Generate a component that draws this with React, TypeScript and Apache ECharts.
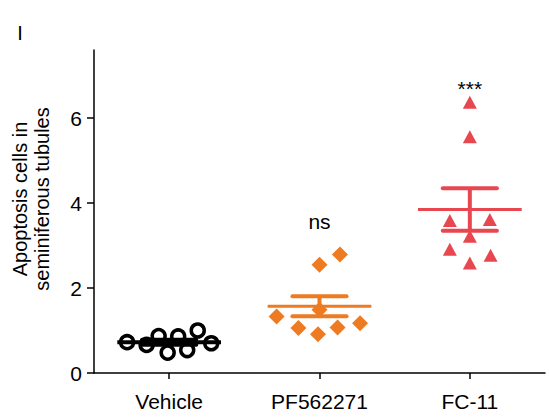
import React, { useEffect, useRef } from "react";
import * as echarts from "echarts";

const categories = ["Vehicle", "PF562271", "FC-11"];

// individual values per group
const vehicleValues = [0.725, 0.66, 0.87, 0.48, 0.86, 0.54, 1.0, 0.7];
const vehicleJitter = [-0.28, -0.15, -0.07, -0.01, 0.06, 0.12, 0.19, 0.28];
const pfValues = [1.33, 1.06, 0.91, 1.07, 1.17, 1.49, 2.55, 2.79];
const pfJitter = [-0.285, -0.14, -0.01, 0.12, 0.27, 0.0, 0.0, 0.136];
const fcValues = [6.37, 5.56, 3.59, 3.61, 3.22, 2.91, 2.77, 2.59];
const fcJitter = [0.0, 0.0, -0.133, 0.133, 0.0, -0.133, 0.138, 0.0];

// mean and SEM per group
const means = [0.725, 1.57, 3.85];
const sems = [0.06, 0.235, 0.5];

const annotations = ["", "ns", "***"];
const annotationY = [0, 3.57, 6.7];

const yTicks = [0, 2, 4, 6];

const FONT = "Liberation Sans, Arial, Helvetica, sans-serif";
const BLACK = "#000000";
const ORANGE = "#EE7B22";
const RED = "#E8474F";
const groupColors = [BLACK, ORANGE, RED];

function pts(values: number[], jitter: number[], idx: number) {
  return values.map((v, i) => [idx + 0.5 + jitter[i], v]);
}

export default function App() {
  const ref = useRef<HTMLDivElement>(null);
  useEffect(() => {
    if (!ref.current) return;
    const chart = echarts.init(ref.current, undefined, { renderer: "svg" });
    const option: any = {
      animation: false,
      backgroundColor: "#ffffff",
      textStyle: { fontFamily: FONT },
      grid: { left: 94, right: 4, top: 50, bottom: 47 },
      xAxis: [
        {
          type: "category",
          data: categories,
          boundaryGap: true,
          axisLine: { show: true, lineStyle: { color: BLACK, width: 1.5 } },
          axisTick: { show: true, alignWithLabel: true, length: 6, lineStyle: { color: BLACK, width: 1.5 } },
          axisLabel: { color: BLACK, fontSize: 21, fontFamily: FONT, margin: 18 },
          splitLine: { show: false },
        },
        {
          type: "value",
          min: 0,
          max: 3,
          show: false,
          splitLine: { show: false },
        },
      ],
      yAxis: {
        type: "value",
        min: 0,
        max: 7.6,
        interval: 2,
        axisLine: { show: true, lineStyle: { color: BLACK, width: 1.5 } },
        axisTick: { show: true, length: 7, lineStyle: { color: BLACK, width: 1.5 } },
        axisLabel: {
          color: BLACK,
          fontSize: 21,
          fontFamily: FONT,
          margin: 12,
          showMaxLabel: false,
          formatter: (v: number) => (yTicks.includes(v) ? String(v) : ""),
        },
        splitLine: { show: false },
      },
      series: [
        {
          type: "scatter",
          xAxisIndex: 1,
          symbol: "circle",
          symbolSize: 13,
          itemStyle: { color: "rgba(255,255,255,0)", borderColor: BLACK, borderWidth: 3.5, opacity: 1 },
          data: pts(vehicleValues, vehicleJitter, 0),
          z: 2,
        },
        {
          type: "scatter",
          xAxisIndex: 1,
          symbol: "diamond",
          symbolSize: 16,
          itemStyle: { color: ORANGE, opacity: 1 },
          data: pts(pfValues, pfJitter, 1),
          z: 2,
        },
        {
          type: "scatter",
          xAxisIndex: 1,
          symbol: "triangle",
          symbolSize: [14, 13],
          itemStyle: { color: RED, opacity: 1 },
          data: pts(fcValues, fcJitter, 2),
          z: 2,
        },
        {
          type: "custom",
          xAxisIndex: 1,
          z: 3,
          data: means.map((m, i) => [i + 0.5, m, sems[i], i]),
          encode: { x: 0, y: 1 },
          renderItem: (params: any, api: any) => {
            const cx = api.value(0);
            const m = api.value(1);
            const s = api.value(2);
            const gi = api.value(3);
            const color = groupColors[gi];
            const halfMean = 0.345;
            const halfCap = 0.18;
            const a = api.coord([cx - halfMean, m]);
            const b = api.coord([cx + halfMean, m]);
            const top = api.coord([cx, m + s]);
            const bot = api.coord([cx, m - s]);
            const capL = api.coord([cx - halfCap, m]);
            const capR = api.coord([cx + halfCap, m]);
            const children: any[] = [
              {
                type: "line",
                shape: { x1: a[0], y1: a[1], x2: b[0], y2: b[1] },
                style: { stroke: color, lineWidth: gi === 0 ? 4 : 3 },
              },
              {
                type: "line",
                shape: { x1: top[0], y1: top[1], x2: bot[0], y2: bot[1] },
                style: { stroke: color, lineWidth: 4 },
              },
              {
                type: "line",
                shape: { x1: capL[0], y1: top[1], x2: capR[0], y2: top[1] },
                style: { stroke: color, lineWidth: 4, lineCap: "round" },
              },
              {
                type: "line",
                shape: { x1: capL[0], y1: bot[1], x2: capR[0], y2: bot[1] },
                style: { stroke: color, lineWidth: 4, lineCap: "round" },
              },
            ];
            return { type: "group", children };
          },
        },
        {
          type: "scatter",
          xAxisIndex: 1,
          symbolSize: 1,
          itemStyle: { color: "rgba(0,0,0,0)", opacity: 1 },
          silent: true,
          data: annotations
            .map((t, i) => ({ value: [i + 0.5, annotationY[i]], name: t }))
            .filter((d) => d.name !== ""),
          label: {
            show: true,
            position: "inside",
            formatter: (p: any) => p.name,
            color: BLACK,
            opacity: 1,
            fontSize: 21,
            fontFamily: FONT,
          },
          z: 4,
        },
      ],
      graphic: [
        {
          type: "text",
          x: 20,
          y: 33,
          style: { text: "I", fontSize: 20, fontFamily: FONT, fill: BLACK, align: "center", verticalAlign: "middle" },
        },
        {
          type: "text",
          x: 31,
          y: 199,
          rotation: Math.PI / 2,
          style: {
            text: "Apoptosis cells in\nseminiferous tubules",
            fontSize: 20,
            lineHeight: 22,
            fontFamily: FONT,
            fill: BLACK,
            align: "center",
            verticalAlign: "middle",
          },
        },
      ],
    };
    chart.setOption(option);
    return () => chart.dispose();
  }, []);
  return (
    <div
      ref={ref}
      style={{ position: "fixed", left: 0, top: 0, width: 549, height: 420, background: "#fff" }}
    />
  );
}
